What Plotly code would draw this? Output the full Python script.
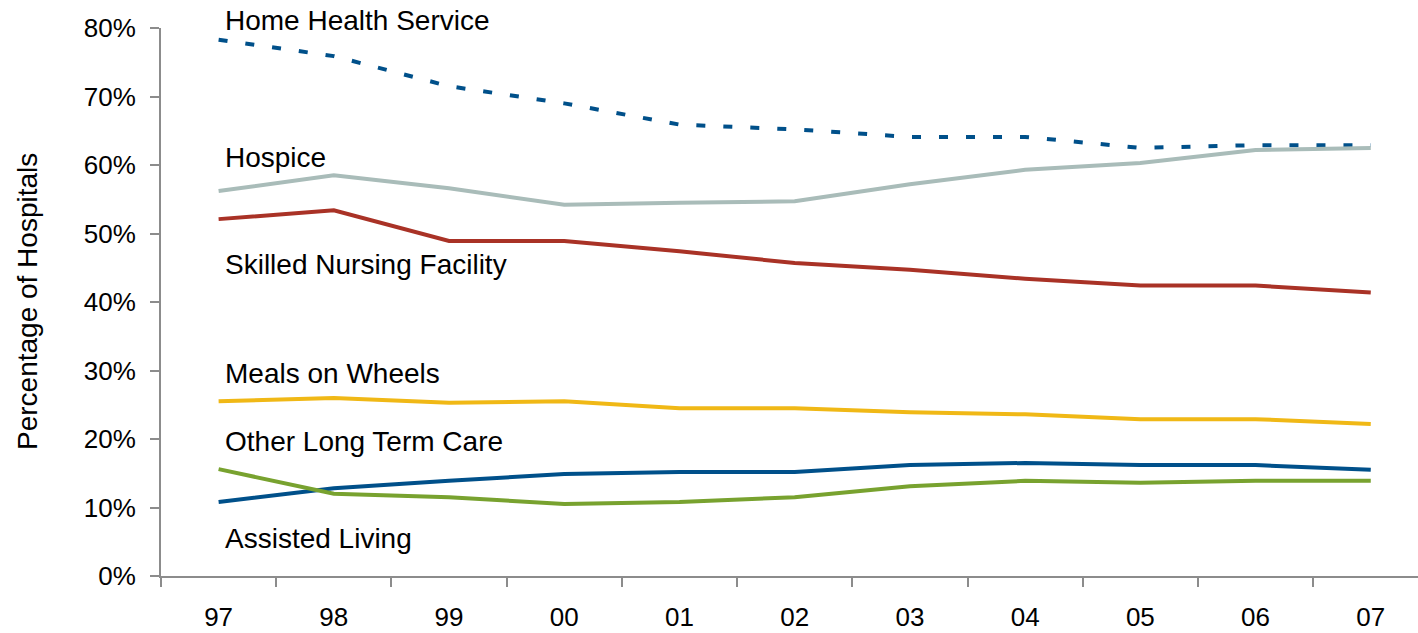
import plotly.graph_objects as go

years = ["97", "98", "99", "00", "01", "02", "03", "04", "05", "06", "07"]
home_health = [78.3, 75.9, 71.5, 69.0, 65.9, 65.2, 64.1, 64.1, 62.5, 62.9, 62.9]
hospice = [56.2, 58.5, 56.6, 54.2, 54.5, 54.7, 57.2, 59.3, 60.3, 62.2, 62.5]
skilled_nursing = [52.1, 53.4, 48.9, 48.9, 47.4, 45.7, 44.7, 43.4, 42.4, 42.4, 41.4]
meals_on_wheels = [25.5, 26.0, 25.3, 25.5, 24.5, 24.5, 23.9, 23.6, 22.9, 22.9, 22.2]
other_ltc = [10.8, 12.8, 13.9, 14.9, 15.2, 15.2, 16.2, 16.5, 16.2, 16.2, 15.5]
assisted_living = [15.6, 12.0, 11.5, 10.5, 10.8, 11.5, 13.1, 13.9, 13.6, 13.9, 13.9]

series = [
    ("Home Health Service", home_health, "#00508a", "9px,18px"),
    ("Hospice", hospice, "#a9bcb9", "solid"),
    ("Skilled Nursing Facility", skilled_nursing, "#a93226", "solid"),
    ("Meals on Wheels", meals_on_wheels, "#f0b816", "solid"),
    ("Other Long Term Care", other_ltc, "#00508a", "solid"),
    ("Assisted Living", assisted_living, "#78a22f", "solid"),
]

FONT = "Liberation Sans, Arial, sans-serif"
Y_MAX = 80

fig = go.Figure()
for name, vals, color, dash in series:
    fig.add_trace(go.Scatter(x=years, y=vals, mode="lines", name=name,
                             line=dict(color=color, width=4, dash=dash)))

# series labels: (text, vertical position in % units)
labels = [
    ("Home Health Service", 81.1),
    ("Hospice", 61.1),
    ("Skilled Nursing Facility", 45.5),
    ("Meals on Wheels", 29.5),
    ("Other Long Term Care", 19.6),
    ("Assisted Living", 5.5),
]
for text, yv in labels:
    fig.add_annotation(x=0.05, y=yv / Y_MAX, xref="x", yref="paper", text=text,
                       showarrow=False, xanchor="left", yanchor="middle", borderpad=0,
                       font=dict(family=FONT, size=28, color="#000000"))

# y-axis title
fig.add_annotation(x=-134 / 1257, y=0.5, xref="paper", yref="paper",
                   text="Percentage of Hospitals", textangle=-90, showarrow=False,
                   xanchor="center", yanchor="middle",
                   font=dict(family=FONT, size=28, color="#000000"))

fig.update_layout(
    width=1418, height=633,
    margin=dict(l=161, r=0, t=28, b=57, autoexpand=False),
    paper_bgcolor="white", plot_bgcolor="white",
    showlegend=False,
    font=dict(family=FONT, size=26, color="#000000"),
)
fig.update_xaxes(
    type="category", range=[-0.5, 10.41], tickson="boundaries",
    showline=True, linecolor="#8c8c8c", linewidth=2,
    ticks="outside", ticklen=9, tickwidth=2, tickcolor="#8c8c8c",
    showgrid=False, zeroline=False, automargin=False,
    tickfont=dict(size=26), ticklabelstandoff=17,
)
fig.update_yaxes(
    range=[0, Y_MAX], tickvals=[0, 10, 20, 30, 40, 50, 60, 70, 80],
    ticktext=["0%", "10%", "20%", "30%", "40%", "50%", "60%", "70%", "80%"],
    showline=True, linecolor="#8c8c8c", linewidth=2,
    ticks="outside", ticklen=9, tickwidth=2, tickcolor="#8c8c8c",
    showgrid=False, zeroline=False, automargin=False,
    tickfont=dict(size=26), ticklabelstandoff=9,
)

fig.write_html("out.html", config={"displayModeBar": False},
               post_script="document.body.style.margin='0';document.body.style.overflow='hidden';")
